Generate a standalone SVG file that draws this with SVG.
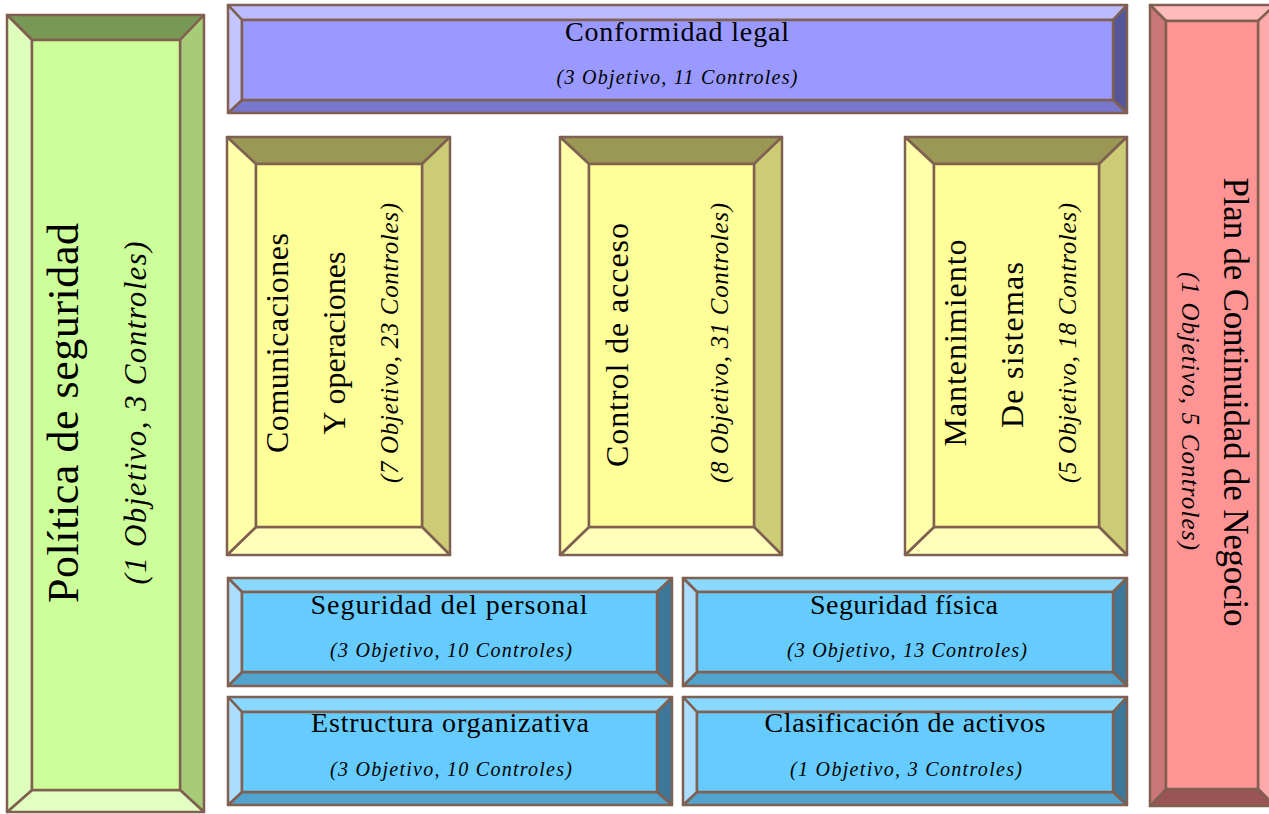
<svg xmlns="http://www.w3.org/2000/svg" width="1269" height="814" viewBox="0 0 1269 814">
<style>
polygon, rect { stroke: #806050; stroke-width: 2.5; stroke-linejoin: round; }
text { font-family: "Liberation Serif", "DejaVu Serif", serif; fill: #000; text-anchor: middle; }
.it { font-style: italic; }
.g .t { fill: #779955; } .g .l { fill: #ddffbb; } .g .r { fill: #a6cc77; } .g .b { fill: #e0ffc0; } .g .c { fill: #ccff99; }
.p .t { fill: #bbbbff; } .p .l { fill: #c4c4ff; } .p .r { fill: #555599; } .p .b { fill: #7777cc; } .p .c { fill: #9999ff; }
.k .t { fill: #ffbbbb; } .k .l { fill: #cc7777; } .k .r { fill: #ffaaaa; } .k .b { fill: #995555; } .k .c { fill: #ff9494; }
.y .t { fill: #999955; } .y .l { fill: #ffffaa; } .y .r { fill: #cccc77; } .y .b { fill: #ffffbb; } .y .c { fill: #ffff99; }
.u .t { fill: #88d8ff; } .u .l { fill: #aaddff; } .u .r { fill: #3d7799; } .u .b { fill: #4fa3cc; } .u .c { fill: #66ccff; }
</style>

<g id="politica" class="g">
<polygon class="t" points="7,15 204,15 180,40 32,40"/>
<polygon class="r" points="204,15 204,812 180,790 180,40"/>
<polygon class="b" points="7,812 204,812 180,790 32,790"/>
<polygon class="l" points="7,15 32,40 32,790 7,812"/>
<rect class="c" x="32" y="40" width="148" height="750"/>
<text transform="translate(78,413) rotate(-90)" font-size="44" textLength="380" lengthAdjust="spacing">Política de seguridad</text>
<text class="it" transform="translate(146,413) rotate(-90)" font-size="31" textLength="343" lengthAdjust="spacing">(1 Objetivo, 3 Controles)</text>
</g>

<g id="conformidad" class="p">
<polygon class="t" points="228,5 1127,5 1113,20 242,20"/>
<polygon class="r" points="1127,5 1127,113 1113,100 1113,20"/>
<polygon class="b" points="228,113 1127,113 1113,100 242,100"/>
<polygon class="l" points="228,5 242,20 242,100 228,113"/>
<rect class="c" x="242" y="20" width="871" height="80"/>
<text x="677" y="41" font-size="28" textLength="224" lengthAdjust="spacing">Conformidad legal</text>
<text class="it" x="677" y="84" font-size="20" textLength="241" lengthAdjust="spacing">(3 Objetivo, 11 Controles)</text>
</g>

<g id="plan" class="k">
<polygon class="t" points="1150,5 1275,5 1258,21 1166,21"/>
<polygon class="r" points="1275,5 1275,806 1258,789 1258,21"/>
<polygon class="b" points="1150,806 1275,806 1258,789 1166,789"/>
<polygon class="l" points="1150,5 1166,21 1166,789 1150,806"/>
<rect class="c" x="1166" y="21" width="92" height="768"/>
<text transform="translate(1224,402) rotate(90)" font-size="35" textLength="449" lengthAdjust="spacing">Plan de Continuidad de Negocio</text>
<text class="it" transform="translate(1182,411) rotate(90)" font-size="25" textLength="278" lengthAdjust="spacing">(1 Objetivo, 5 Controles)</text>
</g>

<g id="comunicaciones" class="y">
<polygon class="t" points="227,137 450,137 422,164 256,164"/>
<polygon class="r" points="450,137 450,555 422,527 422,164"/>
<polygon class="b" points="227,555 450,555 422,527 256,527"/>
<polygon class="l" points="227,137 256,164 256,527 227,555"/>
<rect class="c" x="256" y="164" width="166" height="363"/>
<text transform="translate(288,343) rotate(-90)" font-size="32" textLength="220" lengthAdjust="spacing">Comunicaciones</text>
<text transform="translate(345,343) rotate(-90)" font-size="32" textLength="183" lengthAdjust="spacing">Y operaciones</text>
<text class="it" transform="translate(398,343) rotate(-90)" font-size="25" textLength="280" lengthAdjust="spacing">(7 Objetivo, 23 Controles)</text>
</g>

<g id="control-acceso" class="y">
<polygon class="t" points="560,137 782,137 754,164 589,164"/>
<polygon class="r" points="782,137 782,555 754,527 754,164"/>
<polygon class="b" points="560,555 782,555 754,527 589,527"/>
<polygon class="l" points="560,137 589,164 589,527 560,555"/>
<rect class="c" x="589" y="164" width="165" height="363"/>
<text transform="translate(628,345) rotate(-90)" font-size="32" textLength="244" lengthAdjust="spacing">Control de acceso</text>
<text class="it" transform="translate(728,343) rotate(-90)" font-size="25" textLength="280" lengthAdjust="spacing">(8 Objetivo, 31 Controles)</text>
</g>

<g id="mantenimiento" class="y">
<polygon class="t" points="905,137 1127,137 1099,164 934,164"/>
<polygon class="r" points="1127,137 1127,555 1099,527 1099,164"/>
<polygon class="b" points="905,555 1127,555 1099,527 934,527"/>
<polygon class="l" points="905,137 934,164 934,527 905,555"/>
<rect class="c" x="934" y="164" width="165" height="363"/>
<text transform="translate(966,343) rotate(-90)" font-size="32" textLength="207" lengthAdjust="spacing">Mantenimiento</text>
<text transform="translate(1023,345) rotate(-90)" font-size="32" textLength="166" lengthAdjust="spacing">De sistemas</text>
<text class="it" transform="translate(1076,343) rotate(-90)" font-size="25" textLength="280" lengthAdjust="spacing">(5 Objetivo, 18 Controles)</text>
</g>

<g id="seguridad-personal" class="u">
<polygon class="t" points="228,578 672,578 657,592 242,592"/>
<polygon class="r" points="672,578 672,686 657,672 657,592"/>
<polygon class="b" points="228,686 672,686 657,672 242,672"/>
<polygon class="l" points="228,578 242,592 242,672 228,686"/>
<rect class="c" x="242" y="592" width="415" height="80"/>
<text x="449" y="614" font-size="28" textLength="277" lengthAdjust="spacing">Seguridad del personal</text>
<text class="it" x="451" y="657" font-size="20" textLength="242" lengthAdjust="spacing">(3 Objetivo, 10 Controles)</text>
</g>

<g id="seguridad-fisica" class="u">
<polygon class="t" points="683,578 1127,578 1113,592 697,592"/>
<polygon class="r" points="1127,578 1127,686 1113,672 1113,592"/>
<polygon class="b" points="683,686 1127,686 1113,672 697,672"/>
<polygon class="l" points="683,578 697,592 697,672 683,686"/>
<rect class="c" x="697" y="592" width="416" height="80"/>
<text x="904" y="614" font-size="28" textLength="188" lengthAdjust="spacing">Seguridad física</text>
<text class="it" x="907" y="657" font-size="20" textLength="240" lengthAdjust="spacing">(3 Objetivo, 13 Controles)</text>
</g>

<g id="estructura" class="u">
<polygon class="t" points="228,697 672,697 657,712 242,712"/>
<polygon class="r" points="672,697 672,805 657,792 657,712"/>
<polygon class="b" points="228,805 672,805 657,792 242,792"/>
<polygon class="l" points="228,697 242,712 242,792 228,805"/>
<rect class="c" x="242" y="712" width="415" height="80"/>
<text x="450" y="732" font-size="28" textLength="278" lengthAdjust="spacing">Estructura organizativa</text>
<text class="it" x="451" y="776" font-size="20" textLength="242" lengthAdjust="spacing">(3 Objetivo, 10 Controles)</text>
</g>

<g id="clasificacion" class="u">
<polygon class="t" points="683,697 1127,697 1113,712 697,712"/>
<polygon class="r" points="1127,697 1127,805 1113,792 1113,712"/>
<polygon class="b" points="683,805 1127,805 1113,792 697,792"/>
<polygon class="l" points="683,697 697,712 697,792 683,805"/>
<rect class="c" x="697" y="712" width="416" height="80"/>
<text x="905" y="732" font-size="28" textLength="281" lengthAdjust="spacing">Clasificación de activos</text>
<text class="it" x="906" y="776" font-size="20" textLength="232" lengthAdjust="spacing">(1 Objetivo, 3 Controles)</text>
</g>
</svg>
